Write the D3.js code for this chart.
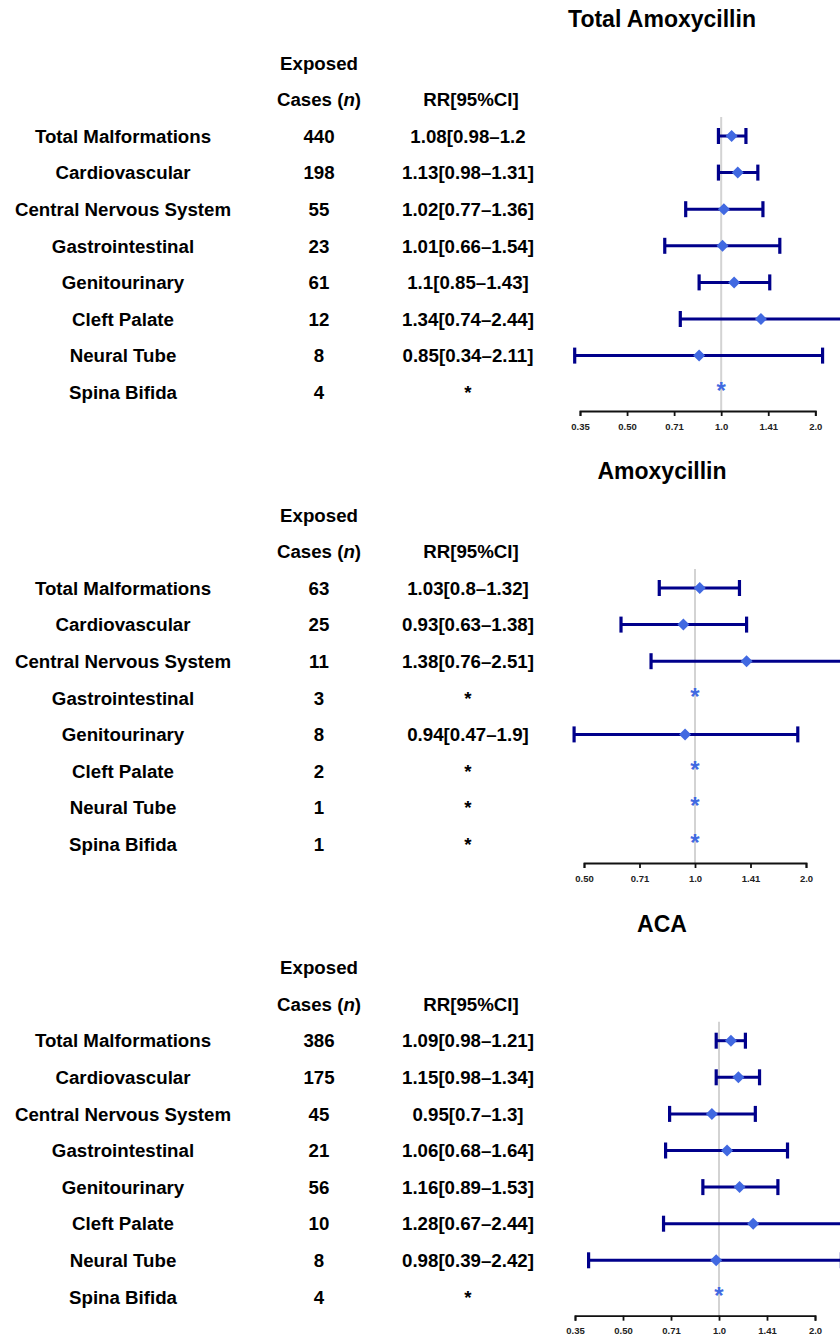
<!DOCTYPE html>
<html>
<head>
<meta charset="utf-8">
<script src="https://cdn.jsdelivr.net/npm/d3@7"></script>
<style>
  html, body { margin: 0; padding: 0; background: #fff; }
  svg { display: block; font-family: "Liberation Sans", Arial, Helvetica, sans-serif; font-weight: bold; }
</style>
</head>
<body>
<svg id="chart" width="840" height="1338"></svg>
<script>
// ---------------- DATA ----------------
const panelTitles = ["Total Amoxycillin", "Amoxycillin", "ACA"];
const outcomes = ["Total Malformations", "Cardiovascular", "Central Nervous System",
  "Gastrointestinal", "Genitourinary", "Cleft Palate", "Neural Tube", "Spina Bifida"];

const casesTotalAmox = [440, 198, 55, 23, 61, 12, 8, 4];
const rrTotalAmox    = [1.08, 1.13, 1.02, 1.01, 1.1, 1.34, 0.85, null];
const lowTotalAmox   = [0.98, 0.98, 0.77, 0.66, 0.85, 0.74, 0.34, null];
const highTotalAmox  = [1.2, 1.31, 1.36, 1.54, 1.43, 2.44, 2.11, null];
const textTotalAmox  = ["1.08[0.98\u20131.2", "1.13[0.98\u20131.31]", "1.02[0.77\u20131.36]", "1.01[0.66\u20131.54]",
  "1.1[0.85\u20131.43]", "1.34[0.74\u20132.44]", "0.85[0.34\u20132.11]", "*"];

const casesAmox = [63, 25, 11, 3, 8, 2, 1, 1];
const rrAmox    = [1.03, 0.93, 1.38, null, 0.94, null, null, null];
const lowAmox   = [0.8, 0.63, 0.76, null, 0.47, null, null, null];
const highAmox  = [1.32, 1.38, 2.51, null, 1.9, null, null, null];
const textAmox  = ["1.03[0.8\u20131.32]", "0.93[0.63\u20131.38]", "1.38[0.76\u20132.51]", "*",
  "0.94[0.47\u20131.9]", "*", "*", "*"];

const casesACA = [386, 175, 45, 21, 56, 10, 8, 4];
const rrACA    = [1.09, 1.15, 0.95, 1.06, 1.16, 1.28, 0.98, null];
const lowACA   = [0.98, 0.98, 0.7, 0.68, 0.89, 0.67, 0.39, null];
const highACA  = [1.21, 1.34, 1.3, 1.64, 1.53, 2.44, 2.42, null];
const textACA  = ["1.09[0.98\u20131.21]", "1.15[0.98\u20131.34]", "0.95[0.7\u20131.3]", "1.06[0.68\u20131.64]",
  "1.16[0.89\u20131.53]", "1.28[0.67\u20132.44]", "0.98[0.39\u20132.42]", "*"];

const tickValuesWide = [0.35355, 0.5, 0.70711, 1, 1.41421, 2];
const tickLabelsWide = ["0.35", "0.50", "0.71", "1.0", "1.41", "2.0"];
const tickValuesNarrow = [0.5, 0.70711, 1, 1.41421, 2];
const tickLabelsNarrow = ["0.50", "0.71", "1.0", "1.41", "2.0"];

// ---------------- LAYOUT ----------------
const panels = [
  { title: panelTitles[0], cases: casesTotalAmox, rr: rrTotalAmox, lo: lowTotalAmox, hi: highTotalAmox, txt: textTotalAmox,
    ticks: tickValuesWide, labels: tickLabelsWide, range: [580, 815.3], row1: 136 },
  { title: panelTitles[1], cases: casesAmox, rr: rrAmox, lo: lowAmox, hi: highAmox, txt: textAmox,
    ticks: tickValuesNarrow, labels: tickLabelsNarrow, range: [584, 806], row1: 588 },
  { title: panelTitles[2], cases: casesACA, rr: rrACA, lo: lowACA, hi: highACA, txt: textACA,
    ticks: tickValuesWide, labels: tickLabelsWide, range: [575, 815], row1: 1040.7 }
];

const rowStep = 36.6;
const xLabel = 123, xCases = 319, xRR = 468, xRRHead = 471, xTitle = 662;
const fs = 18.7;
const barColor = "#00008B", pointColor = "#4169E1";

const svg = d3.select("#chart");

panels.forEach(p => {
  const g = svg.append("g");
  const x = d3.scaleLog().base(2).domain([p.ticks[0], p.ticks[p.ticks.length - 1]]).range(p.range);
  const y = d3.scaleLinear().domain([0, 1]).range([p.row1, p.row1 + rowStep]);
  const axisY = p.row1 + 275;

  // Title
  g.append("text").attr("x", xTitle).attr("y", p.row1 - 117).attr("dy", "0.36em")
    .attr("text-anchor", "middle").attr("font-size", 23).text(p.title);

  // Headers
  g.append("text").attr("x", xCases).attr("y", y(-2)).attr("dy", "0.36em")
    .attr("text-anchor", "middle").attr("font-size", fs).text("Exposed");
  const ch = g.append("text").attr("x", xCases).attr("y", y(-1)).attr("dy", "0.36em")
    .attr("text-anchor", "middle").attr("font-size", fs);
  ch.append("tspan").text("Cases (");
  ch.append("tspan").attr("font-style", "italic").text("n");
  ch.append("tspan").text(")");
  g.append("text").attr("x", xRRHead).attr("y", y(-1)).attr("dy", "0.36em")
    .attr("text-anchor", "middle").attr("font-size", fs).text("RR[95%CI]");

  // Table rows
  outcomes.forEach((o, i) => {
    g.append("text").attr("x", xLabel).attr("y", y(i)).attr("dy", "0.36em")
      .attr("text-anchor", "middle").attr("font-size", fs).text(o);
    g.append("text").attr("x", xCases).attr("y", y(i)).attr("dy", "0.36em")
      .attr("text-anchor", "middle").attr("font-size", fs).text(p.cases[i]);
    g.append("text").attr("x", xRR).attr("y", y(i)).attr("dy", "0.36em")
      .attr("text-anchor", "middle").attr("font-size", fs).text(p.txt[i]);
  });

  // Reference line at 1
  g.append("line").attr("x1", x(1)).attr("x2", x(1))
    .attr("y1", y(0) - 19).attr("y2", axisY)
    .attr("stroke", "#d3d3d3").attr("stroke-width", 2);

  // Axis
  const axis = d3.axisBottom(x).tickValues(p.ticks)
    .tickFormat((d, i) => p.labels[i]).tickSize(5).tickSizeOuter(5).tickPadding(7);
  const ag = g.append("g").attr("transform", `translate(0,${axisY})`).call(axis);
  ag.select(".domain").attr("stroke", "#111").attr("stroke-width", 1.8);
  ag.selectAll(".tick line").attr("stroke", "#111").attr("stroke-width", 1.8);
  ag.selectAll(".tick text").attr("font-size", 9.5).attr("font-weight", "bold")
    .attr("font-family", "'Liberation Sans', Arial, sans-serif").attr("fill", "#222");

  // Error bars & points
  outcomes.forEach((o, i) => {
    const cy = y(i);
    if (p.rr[i] == null) {
      g.append("text").attr("x", x(1)).attr("y", cy - 8).attr("dy", "0.62em")
        .attr("text-anchor", "middle").attr("font-size", 24).attr("fill", pointColor).text("*");
      return;
    }
    const x0 = x(p.lo[i]), x1 = x(p.hi[i]), xm = x(p.rr[i]);
    g.append("line").attr("x1", x0).attr("x2", x1).attr("y1", cy).attr("y2", cy)
      .attr("stroke", barColor).attr("stroke-width", 3);
    [x0, x1].forEach(xx => {
      g.append("line").attr("x1", xx).attr("x2", xx).attr("y1", cy - 8).attr("y2", cy + 8)
        .attr("stroke", barColor).attr("stroke-width", 3.2);
    });
    const r = 6;
    g.append("path").attr("d", `M${xm},${cy - r}L${xm + r},${cy}L${xm},${cy + r}L${xm - r},${cy}Z`)
      .attr("fill", pointColor);
  });
});
</script>
</body>
</html>
